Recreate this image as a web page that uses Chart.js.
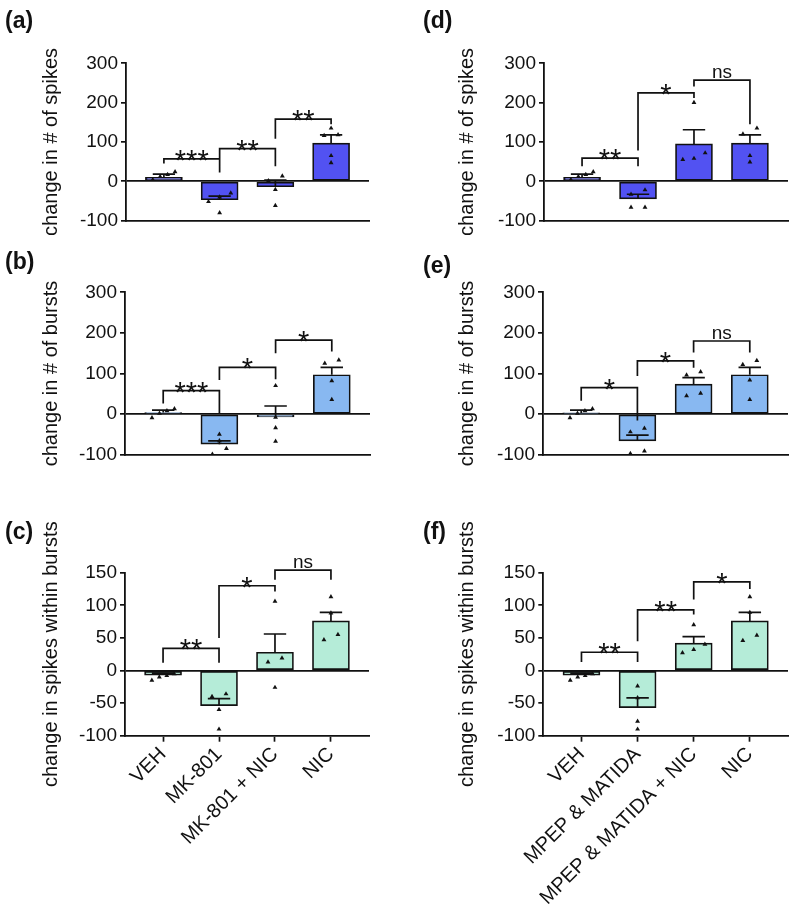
<!DOCTYPE html>
<html>
<head>
<meta charset="utf-8">
<script src="https://cdn.jsdelivr.net/npm/chart.js@4.4.0/dist/chart.umd.min.js"></script>
<style>
  body { margin: 0; background: #fff; width: 800px; height: 919px; position: relative; overflow: hidden; }
  canvas { position: absolute; }
  .tag { position: absolute; z-index: 2; font-family: "Liberation Sans", Arial, sans-serif; font-weight: bold; font-size: 23px; line-height: 1; color: #111; }
</style>
</head>
<body>
<div class="tag" style="left:5px;top:9px">(a)</div>
<div class="tag" style="left:5px;top:250px">(b)</div>
<div class="tag" style="left:5px;top:520px">(c)</div>
<div class="tag" style="left:423px;top:9px">(d)</div>
<div class="tag" style="left:423px;top:254px">(e)</div>
<div class="tag" style="left:423px;top:520px">(f)</div>

<script>
var FONT = '"Liberation Sans", Arial, sans-serif';
var INK = '#111';

var groupsMk = ['VEH', 'MK-801', 'MK-801 + NIC', 'NIC'];
var groupsMpep = ['VEH', 'MPEP & MATIDA', 'MPEP & MATIDA + NIC', 'NIC'];

var ticksCount = [300, 200, 100, 0, -100];
var ticksWithin = [150, 100, 50, 0, -50, -100];

// sig rows: [from group, to group, bracket top, left leg end, right leg end, label]

// (a) spikes, MK-801
var aMean = [10, -47, -14, 97];
var aSem = [8, 9, 17, 21];
var aPts = [[24, 17, 12, 4], [-30, -40, -52, -80], [13, 1, -21, -62], [135, 118, 116, 65, 47]];
var aSig = [[0, 1, 57, 45, 22, '***'], [1, 2, 83, 58, 38, '**'], [2, 3, 158, 108, 145, '**']];

// (b) bursts, MK-801
var bMean = [4, -74, -7, 97];
var bSem = [6, 8, 27, 18];
var bPts = [[13, 8, 2, -9], [-50, -66, -85, -99], [70, -8, -34, -67], [133, 125, 82, 36]];
var bSig = [[0, 1, 58, 26, 0, '***'], [1, 2, 115, 84, 86, '*'], [2, 3, 182, 150, 154, '*']];

// (c) spikes within bursts, MK-801
var cMean = [-7, -54, 28, 76];
var cSem = [3, 11, 28, 13];
var cPts = [[-5, -8, -10, -15], [-36, -40, -60, -90], [106, 19, 13, -26], [113, 88, 55, 47]];
var cSig = [[0, 1, 34, 12, 12, '**'], [1, 2, 130, 50, 121, '*'], [2, 3, 154, 139, 139, 'ns']];

// (d) spikes, MPEP & MATIDA
var dMean = [10, -45, 95, 97];
var dSem = [8, 12, 36, 21];
var dPts = [[24, 17, 12, 4], [-22, -33, -66, -66], [200, 72, 58, 55], [135, 120, 65, 49]];
var dSig = [[0, 1, 59, 38, 38, '**'], [1, 2, 225, 78, 212, '*'], [2, 3, 257, 241, 145, 'ns']];

// (e) bursts, MPEP & MATIDA
var eMean = [3, -66, 74, 97];
var eSem = [7, 14, 16, 18];
var ePts = [[13, 8, 2, -9], [-35, -44, -91, -97], [104, 96, 51, 45], [132, 122, 84, 36]];
var eSig = [[0, 1, 65, 33, -16, '*'], [1, 2, 131, 94, 114, '*'], [2, 3, 180, 152, 152, 'ns']];

// (f) spikes within bursts, MPEP & MATIDA
var fMean = [-7, -57, 42, 76];
var fSem = [3, 15, 10, 13];
var fPts = [[-5, -8, -10, -15], [-24, -42, -78, -90], [70, 40, 32, 27], [113, 89, 54, 46]];
var fSig = [[0, 1, 28, 13, 13, '**'], [1, 2, 93, 45, 86, '**'], [2, 3, 136, 109, 125, '*']];

// spread points of one group sideways when their values sit close together
function spread(vals, thr) {
  var idx = vals.map(function (v, i) { return i; }).sort(function (a, b) { return vals[a] - vals[b]; });
  var off = vals.map(function () { return 0; });
  var cl = [idx[0]];
  function flush() {
    var n = cl.length;
    var step = n > 1 ? Math.min(0.25, 0.4 / (n - 1)) : 0;
    for (var k = 0; k < n; k++) off[cl[k]] = (k - (n - 1) / 2) * step;
  }
  for (var j = 1; j < idx.length; j++) {
    if (vals[idx[j]] - vals[idx[j - 1]] < thr) cl.push(idx[j]);
    else { flush(); cl = [idx[j]]; }
  }
  flush();
  return off;
}

function errorBarData(mean, sem) {
  var d = [];
  mean.forEach(function (m, i) {
    var top = m + sem[i];
    d.push({x: i, y: m}, {x: i, y: top}, {x: i, y: null});
    d.push({x: i - 0.2, y: top}, {x: i + 0.2, y: top}, {x: i, y: null});
  });
  return d;
}

function bracketData(sig) {
  var d = [];
  sig.forEach(function (s) {
    d.push({x: s[0], y: s[3]}, {x: s[0], y: s[2]}, {x: s[1], y: s[2]}, {x: s[1], y: s[4]}, {x: s[1], y: null});
  });
  return d;
}

function pointData(pts, thr) {
  var d = [];
  pts.forEach(function (g, i) {
    var off = spread(g, thr);
    g.forEach(function (v, k) { d.push({x: i + off[k], y: v}); });
  });
  return d;
}

function sigLabels(sig) {
  return {
    id: 'sigLabels',
    afterDatasetsDraw: function (chart) {
      var xs = chart.scales.x, ys = chart.scales.y, ctx = chart.ctx;
      ctx.save();
      ctx.fillStyle = INK;
      ctx.textAlign = 'center';
      ctx.textBaseline = 'alphabetic';
      sig.forEach(function (s) {
        var x = xs.getPixelForValue((s[0] + s[1]) / 2);
        var y = ys.getPixelForValue(s[2]);
        if (s[5] === 'ns') {
          ctx.font = '19px ' + FONT;
          ctx.fillText(s[5], x, y - 2);
        } else {
          ctx.font = '29px ' + FONT;
          ctx.fillText(s[5], x, y + 11);
        }
      });
      ctx.restore();
    }
  };
}

function makePanel(p) {
  var cv = document.createElement('canvas');
  cv.width = p.box[2];
  cv.height = p.box[3];
  cv.style.left = p.box[0] + 'px';
  cv.style.top = p.box[1] + 'px';
  document.body.appendChild(cv);

  var yW = p.area[0] - p.box[0];
  var xH = p.box[1] + p.box[3] - p.area[3];
  var yMin = Math.min.apply(null, p.yTicks), yMax = Math.max.apply(null, p.yTicks);
  var thr = (yMax - yMin) * 0.04;

  new Chart(cv, {
    type: 'bar',
    data: {
      datasets: [
        {
          type: 'bar',
          data: p.mean.map(function (m, i) { return {x: i, y: m}; }),
          backgroundColor: p.color,
          borderColor: INK,
          borderWidth: 1.7,
          borderSkipped: false,
          barThickness: 37,
          order: 3
        },
        {
          type: 'line',
          data: errorBarData(p.mean, p.sem),
          borderColor: INK,
          borderWidth: 1.7,
          pointRadius: 0,
          fill: false,
          spanGaps: false,
          order: 2
        },
        {
          type: 'scatter',
          data: pointData(p.pts, thr),
          pointStyle: 'triangle',
          pointRadius: 2.8,
          backgroundColor: INK,
          borderWidth: 0,
          order: 0
        },
        {
          type: 'line',
          data: bracketData(p.sig),
          borderColor: INK,
          borderWidth: 1.7,
          pointRadius: 0,
          fill: false,
          spanGaps: false,
          clip: false,
          order: 1
        }
      ]
    },
    options: {
      responsive: false,
      animation: false,
      events: [],
      layout: {
        padding: {left: 0, top: p.area[1] - p.box[1], right: p.box[0] + p.box[2] - p.area[2], bottom: 0}
      },
      plugins: { legend: {display: false}, tooltip: {enabled: false} },
      scales: {
        x: {
          type: 'linear',
          min: -0.68,
          max: 3.68,
          offset: false,
          afterBuildTicks: function (s) { s.ticks = p.cats.map(function (c, i) { return {value: i}; }); },
          afterFit: function (s) { s.height = xH; },
          border: {display: true, color: INK, width: 1.8},
          grid: {
            offset: false,
            drawOnChartArea: false,
            drawTicks: p.showX,
            tickLength: 6,
            color: 'rgba(0,0,0,0)',
            tickColor: INK,
            tickWidth: 1.7
          },
          ticks: {
            display: p.showX,
            autoSkip: false,
            minRotation: 45,
            maxRotation: 45,
            padding: 1,
            color: INK,
            font: {family: FONT, size: 20},
            callback: function (v) { return p.cats[Math.round(v)]; }
          }
        },
        y: {
          type: 'linear',
          min: yMin,
          max: yMax,
          afterBuildTicks: function (s) { s.ticks = p.yTicks.map(function (v) { return {value: v}; }); },
          afterFit: function (s) { s.width = yW; },
          border: {display: true, color: INK, width: 1.8},
          grid: {
            drawOnChartArea: true,
            drawTicks: true,
            tickLength: 5,
            lineWidth: 1.7,
            color: function (c) { return c.tick && c.tick.value === 0 ? INK : 'rgba(0,0,0,0)'; },
            tickColor: INK
          },
          ticks: {
            padding: 3,
            color: INK,
            font: {family: FONT, size: 19}
          },
          title: {
            display: true,
            text: p.title,
            color: INK,
            font: {family: FONT, size: 20},
            padding: {top: p.titleX - 12, bottom: 0}
          }
        }
      }
    },
    plugins: [sigLabels(p.sig)]
  });
}

var blueDark = '#5252f2';
var blueLight = '#88b8f1';
var mint = '#b5ecd8';

makePanel({box: [0, 0, 400, 235], area: [126, 63.3, 369, 226], titleX: 51.5, cats: groupsMk, showX: false,
  yTicks: ticksCount, title: 'change in # of spikes', color: blueDark, mean: aMean, sem: aSem, pts: aPts, sig: aSig});
makePanel({box: [0, 235, 400, 235], area: [125, 292.3, 370, 454.7], titleX: 51.5, cats: groupsMk, showX: false,
  yTicks: ticksCount, title: 'change in # of bursts', color: blueLight, mean: bMean, sem: bSem, pts: bPts, sig: bSig});
makePanel({box: [0, 470, 400, 449], area: [125, 572.7, 369, 735.7], titleX: 51.5, cats: groupsMk, showX: true,
  yTicks: ticksWithin, title: 'change in spikes within bursts', color: mint, mean: cMean, sem: cSem, pts: cPts, sig: cSig});
makePanel({box: [400, 0, 400, 235], area: [544, 63.3, 788, 226], titleX: 67.5, cats: groupsMpep, showX: false,
  yTicks: ticksCount, title: 'change in # of spikes', color: blueDark, mean: dMean, sem: dSem, pts: dPts, sig: dSig});
makePanel({box: [400, 235, 400, 235], area: [543, 292.3, 788, 454.7], titleX: 67.5, cats: groupsMpep, showX: false,
  yTicks: ticksCount, title: 'change in # of bursts', color: blueLight, mean: eMean, sem: eSem, pts: ePts, sig: eSig});
makePanel({box: [400, 470, 400, 449], area: [543.3, 572.7, 788, 735.7], titleX: 67.5, cats: groupsMpep, showX: true,
  yTicks: ticksWithin, title: 'change in spikes within bursts', color: mint, mean: fMean, sem: fSem, pts: fPts, sig: fSig});
</script>
</body>
</html>
